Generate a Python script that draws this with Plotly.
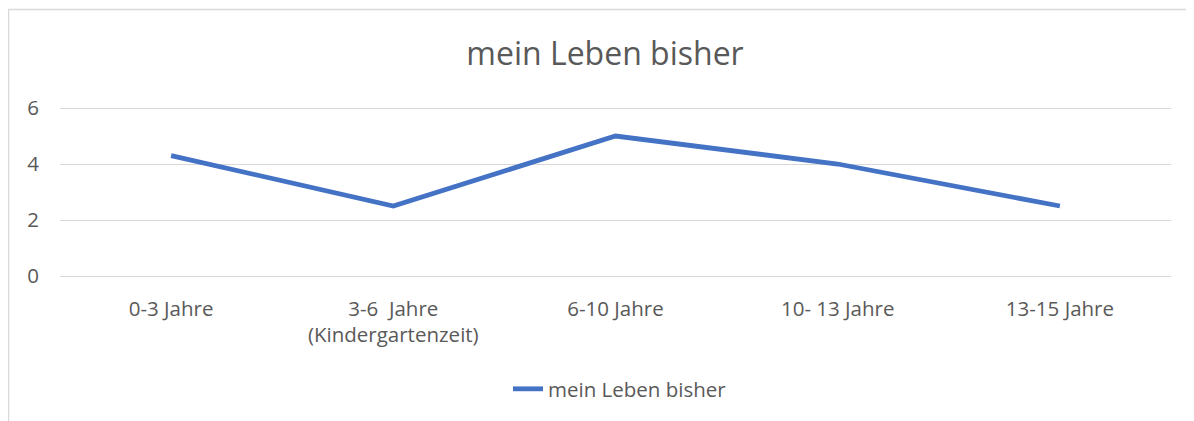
import plotly.graph_objects as go

categories = ["0-3 Jahre", "3-6  Jahre<br>(Kindergartenzeit)", "6-10 Jahre", "10- 13 Jahre", "13-15 Jahre"]
values = [4.3, 2.5, 5.0, 4.0, 2.5]
series_name = "mein Leben bisher"
title_text = "mein Leben bisher"
y_ticks = [0, 2, 4, 6]

FONT = "Open Sans, sans-serif"
GREY = "#595959"

fig = go.Figure()
fig.add_trace(go.Scatter(
    x=list(range(len(categories))), y=values, mode="lines", name=series_name,
    line=dict(color="#4472C4", width=4.8),
))

# page body has an 8px default margin; work in page pixels minus 8
OFF = 8
W, H = 1194 - OFF, 421 - OFF
PAD = 2  # px of extra plot area above/below so edge gridlines are drawn
L, R, T, B = 60 - OFF, 23, 108 - OFF - PAD, 145 - PAD
pw, ph = W - L - R, H - T - B
unit = (276 - 108) / 6.0
ypad = PAD / unit

def px_x(p):
    return (p - OFF - L) / pw

def px_y(p):
    return (H - B - (p - OFF)) / ph

fig.update_layout(
    width=W, height=H,
    margin=dict(l=L, r=R, t=T, b=B),
    paper_bgcolor="white", plot_bgcolor="white",
    font=dict(family=FONT, color=GREY, size=20.5),
    title=dict(text=title_text, x=(605 - OFF) / W, xanchor="center",
               y=1 - (54 - OFF) / H, yanchor="middle",
               font=dict(size=32, color=GREY, family=FONT)),
    showlegend=True,
    legend=dict(orientation="h", x=px_x(620), xanchor="center", y=px_y(389), yanchor="middle",
                font=dict(size=20.5, color=GREY, family=FONT)),
    xaxis=dict(
        tickmode="array", tickvals=list(range(len(categories))), ticktext=categories,
        range=[-0.5, len(categories) - 0.5], showgrid=False, zeroline=False,
        showline=False, ticks="", ticklabelstandoff=14 + PAD,
    ),
    yaxis=dict(
        range=[-ypad, 6 + ypad], tickvals=y_ticks, showgrid=True, gridcolor="#d9d9d9", gridwidth=1.3,
        zeroline=False, showline=False, ticks="", ticklabelstandoff=20,
    ),
    shapes=[dict(type="rect", xref="paper", yref="paper",
                 x0=px_x(8.5), x1=1.2, y0=-2, y1=px_y(9.5),
                 line=dict(color="#d9d9d9", width=1.5), layer="below")],
)

fig.write_html("out.html")
